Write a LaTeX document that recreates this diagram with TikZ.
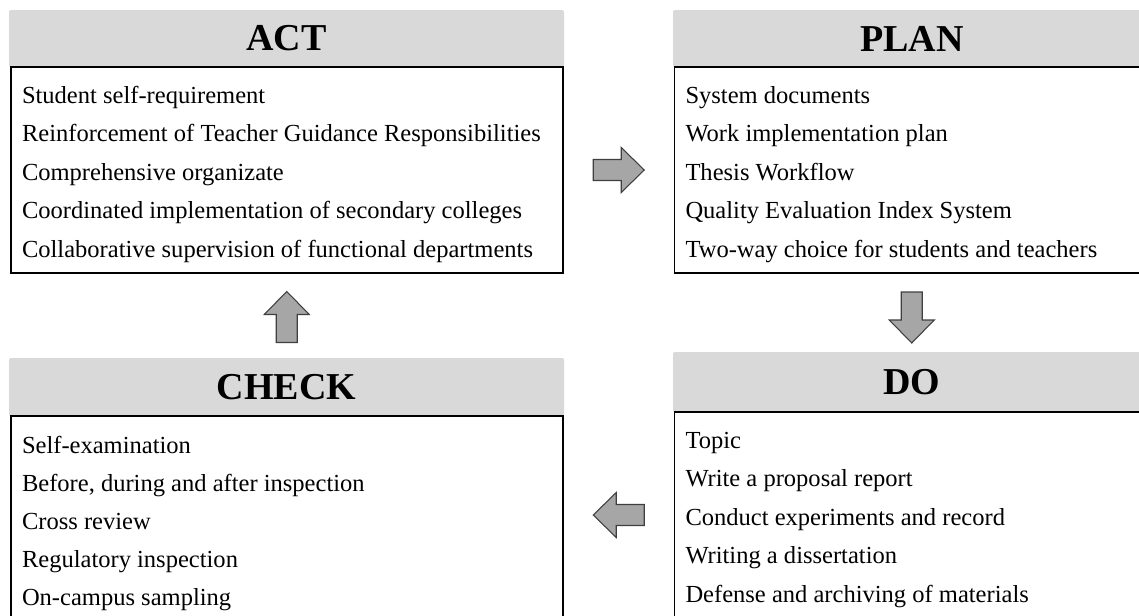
\documentclass[tikz,border=0pt]{standalone}
\usepackage{fontspec}
\setmainfont{Liberation Serif}
\usetikzlibrary{calc}
\definecolor{hdrgray}{HTML}{D9D9D9}
\definecolor{arrowfill}{HTML}{A6A6A6}
\definecolor{arrowdraw}{HTML}{3F3F3F}
\tikzset{
  hdr/.style={fill=hdrgray, inner sep=0pt, outer sep=0pt, anchor=north west, rounded corners=1.5pt,
    font=\fontsize{28.5}{34}\selectfont\bfseries},
  bodybox/.style={draw=black, line width=1.3pt, fill=white, inner sep=0pt, outer sep=0pt, anchor=north west},
  item/.style={inner sep=0pt, outer sep=0pt, anchor=base west, font=\fontsize{18.4}{22}\selectfont},
  blockarrow/.style={fill=arrowfill, draw=arrowdraw, line width=0.8pt, line join=miter}
}
\newcommand\blockarr[2]{\draw[blockarrow, shift={(#1)}, rotate=#2]
  (-25.5,-10.5) -- (2.5,-10.5) -- (2.5,-22.5) -- (25.5,0) -- (2.5,22.5) -- (2.5,10.5) -- (-25.5,10.5) -- cycle;}
\begin{document}
\begin{tikzpicture}[x=0.75pt, y=-0.75pt]
\path[use as bounding box] (0,0) rectangle (1139,615);
\clip (0,0) rectangle (1139,615);
\fill[white] (0,0) rectangle (1139,615);

% headers
\node[hdr, minimum width=416.25pt, minimum height=42.75pt] (act-h) at (9,10) {ACT};
\node[hdr, minimum width=358.5pt, minimum height=42.75pt] (plan-h) at (673,10) {PLAN};
\node[hdr, minimum width=416.25pt, minimum height=43.5pt] (check-h) at (9,358) {CHECK};
\node[hdr, minimum width=358.5pt, minimum height=45pt] (do-h) at (673,352) {DO};

% bodies
\node[bodybox, minimum width=414pt, minimum height=154.5pt] (act-b) at (11,67) {};
\node[bodybox, minimum width=358.5pt, minimum height=154.5pt] (plan-b) at (674.5,67) {};
\node[bodybox, minimum width=414pt, minimum height=172.5pt] (check-b) at (11,416) {};
\node[bodybox, minimum width=358.5pt, minimum height=175.5pt] (do-b) at (674.5,412) {};

% texts
\foreach \t [count=\i] in {Student self-requirement, Reinforcement of Teacher Guidance Responsibilities, Comprehensive organizate, Coordinated implementation of secondary colleges, Collaborative supervision of functional departments}
  \node[item] (act-\i) at ($(act-b.north west)+(11,{36+38.5*(\i-1)})$) {\t};
\foreach \t [count=\i] in {System documents, Work implementation plan, Thesis Workflow, Quality Evaluation Index System, Two-way choice for students and teachers}
  \node[item] (plan-\i) at ($(plan-b.north west)+(11,{36+38.5*(\i-1)})$) {\t};
\foreach \t [count=\i] in {Self-examination, {Before, during and after inspection}, Cross review, Regulatory inspection, On-campus sampling}
  \node[item] (check-\i) at ($(check-b.north west)+(11,{37+38*(\i-1)})$) {\t};
\foreach \t [count=\i] in {Topic, Write a proposal report, Conduct experiments and record, Writing a dissertation, Defense and archiving of materials}
  \node[item] (do-\i) at ($(do-b.north west)+(11,{36+38.5*(\i-1)})$) {\t};

% block arrows between the boxes
\coordinate (c1) at ($(act-b.east)!0.5!(plan-b.west)$);
\coordinate (c2) at ($(plan-b.south)!0.5!(do-h.north)+(-1,5)$);
\coordinate (c3) at ($(check-b.north east)!0.5!(do-b.north west)+(0,101)$);
\coordinate (c4) at ($(act-b.south)!0.5!(check-h.north)+(0,1.5)$);
\blockarr{c1}{0}
\blockarr{c2}{-90}
\blockarr{c3}{180}
\blockarr{c4}{90}
\end{tikzpicture}
\end{document}
